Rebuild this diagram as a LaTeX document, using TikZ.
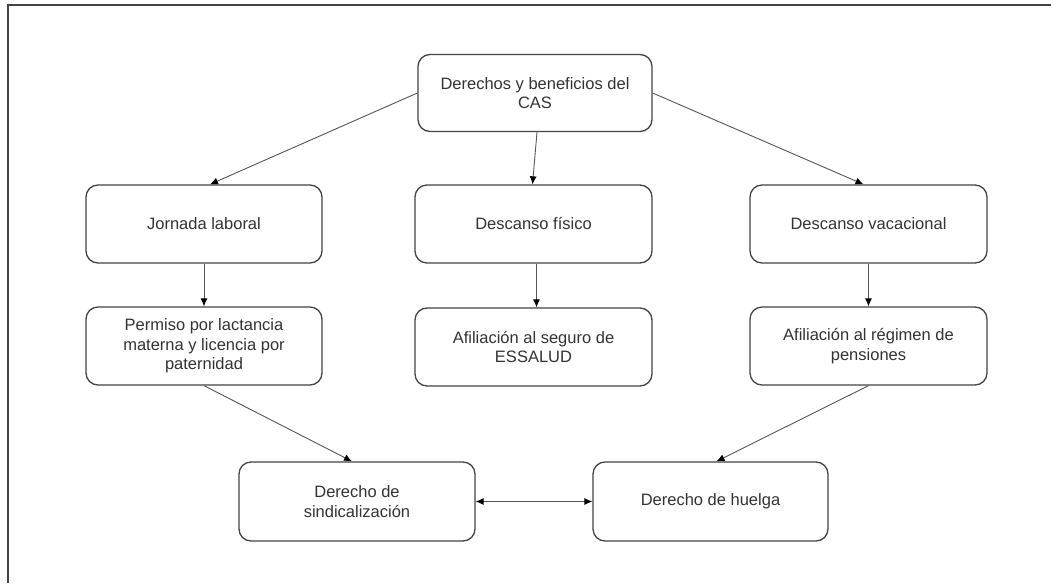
\documentclass[tikz,border=0pt]{standalone}
\usepackage{fontspec}
\setmainfont{Liberation Sans}
\usetikzlibrary{arrows.meta}
\definecolor{boxline}{HTML}{444444}
\definecolor{conn}{HTML}{555555}
\definecolor{txt}{HTML}{333333}
\begin{document}
\begin{tikzpicture}[x=1pt,y=-1pt,
  box/.style={draw=boxline,line width=1.3pt,rounded corners=12pt,fill=white,
    inner sep=0pt,align=center,text=txt,
    font=\fontsize{16.5}{19.5}\selectfont},
  conn/.style={draw=conn,line width=0.9pt,-{Latex[length=8pt,width=7pt,color=black]}},
  dconn/.style={draw=conn,line width=0.9pt,{Latex[length=8pt,width=7pt,color=black]}-{Latex[length=8pt,width=7pt,color=black]}}]
\useasboundingbox (0,0) rectangle (1051,583);
\draw[boxline,line width=2pt] (8,583) -- (8,5) -- (1051,5);
\node[box,minimum width=234pt,minimum height=77pt] (top) at (535,93) {Derechos y beneficios del\\CAS};
\node[box,minimum width=236pt,minimum height=78pt] (jor) at (204,224) {Jornada laboral};
\node[box,minimum width=237pt,minimum height=78pt] (fis) at (533.5,224) {Descanso físico};
\node[box,minimum width=237pt,minimum height=78pt] (vac) at (868.5,224) {Descanso vacacional};
\node[box,minimum width=236pt,minimum height=78pt] (perm) at (204,346) {Permiso por lactancia\\materna y licencia por\\paternidad};
\node[box,minimum width=237pt,minimum height=78pt] (ess) at (533.5,347) {Afiliación al seguro de\\ESSALUD};
\node[box,minimum width=237pt,minimum height=78pt] (afi) at (868.5,346) {Afiliación al régimen de\\pensiones};
\node[box,minimum width=236pt,minimum height=79pt] (sin) at (357,501.5) {Derecho de\\sindicalización};
\node[box,minimum width=235pt,minimum height=79pt] (hue) at (710.5,501.5) {Derecho de huelga};
\draw[conn] (top.west) -- ([xshift=6pt]jor.north);
\draw[conn] ([xshift=2pt]top.south) -- ([xshift=-1pt]fis.north);
\draw[conn] (top.east) -- ([xshift=-5pt]vac.north);
\draw[conn] (jor.south) -- (perm.north);
\draw[conn] ([xshift=3pt]fis.south) -- ([xshift=3pt]ess.north);
\draw[conn] (vac.south) -- (afi.north);
\draw[conn] (perm.south) -- ([xshift=-5pt]sin.north);
\draw[conn] (afi.south) -- ([xshift=6pt]hue.north);
\draw[dconn] (sin.east) -- (hue.west);
\end{tikzpicture}
\end{document}
